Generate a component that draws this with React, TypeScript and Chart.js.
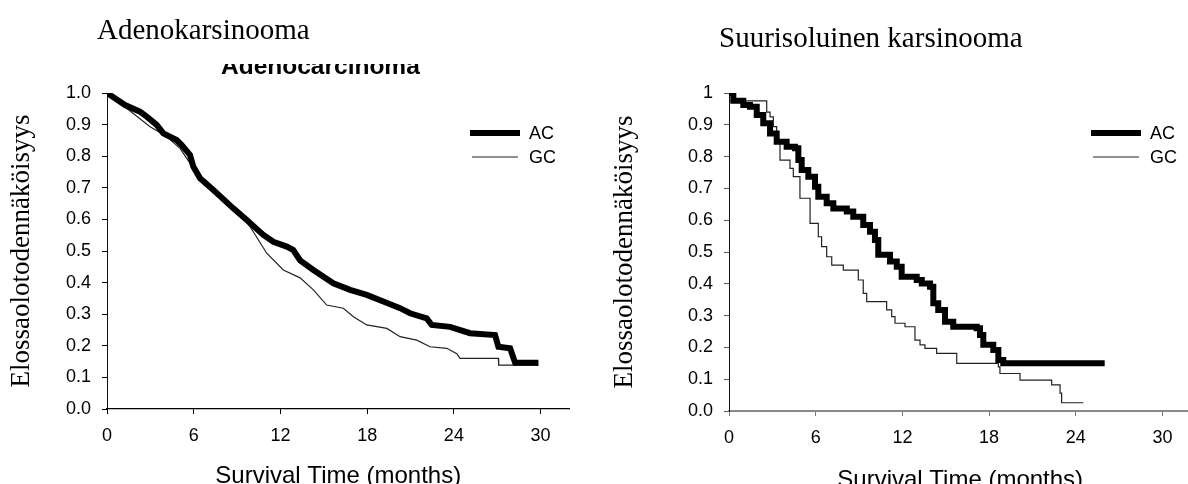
import React, { useEffect, useRef } from 'react';
import { Chart, registerables } from 'chart.js';

Chart.register(...registerables);

// ---------- data ----------
const seriesLabels = ['AC', 'GC'];
const xTickValues = [0, 6, 12, 18, 24, 30];
const yTickValues = [0, 0.1, 0.2, 0.3, 0.4, 0.5, 0.6, 0.7, 0.8, 0.9, 1.0];

// Left panel: adenocarcinoma
const adenoAcTime = [0, 1.25, 2.28, 2.75, 3.44, 3.9, 4.82, 5.17, 5.74, 5.97, 6.44, 7.36, 8.74, 9.67, 10.82, 11.51, 12.44, 12.89, 13.36, 14.28, 15.66, 16.82, 17.97, 19.12, 20.28, 20.97, 22.12, 22.47, 23.74, 25.12, 26.85, 27.08, 27.89, 28.24, 29.85];
const adenoAcSurv = [1.0, 0.962, 0.941, 0.925, 0.899, 0.872, 0.851, 0.835, 0.804, 0.767, 0.73, 0.693, 0.635, 0.598, 0.551, 0.529, 0.514, 0.503, 0.47, 0.44, 0.398, 0.377, 0.361, 0.34, 0.319, 0.303, 0.287, 0.266, 0.26, 0.24, 0.234, 0.197, 0.192, 0.146, 0.146];
const adenoGcTime = [0, 1.82, 2.98, 4.13, 5.05, 5.52, 5.97, 6.44, 7.36, 8.74, 9.67, 10.12, 11.05, 12.2, 13.36, 14.28, 15.2, 16.35, 17.05, 17.97, 19.36, 20.28, 21.43, 22.35, 23.51, 24.2, 24.43, 27.08, 27.1, 29.85];
const adenoGcSurv = [1.0, 0.935, 0.893, 0.862, 0.825, 0.793, 0.762, 0.726, 0.688, 0.63, 0.592, 0.561, 0.493, 0.44, 0.415, 0.377, 0.329, 0.319, 0.292, 0.266, 0.255, 0.229, 0.218, 0.197, 0.192, 0.175, 0.16, 0.16, 0.139, 0.139];

// Right panel: large cell carcinoma
const largeAcTime = [0, 0.3, 0.99, 1.45, 1.92, 2.37, 2.84, 3.3, 3.99, 4.57, 4.8, 5.03, 5.49, 5.95, 6.18, 6.76, 7.22, 8.15, 8.6, 9.29, 9.76, 10.1, 10.33, 11.14, 11.61, 11.95, 12.99, 13.34, 13.91, 14.14, 14.48, 14.95, 15.52, 17.14, 17.37, 17.6, 18.29, 18.64, 18.98, 26.0];
const largeAcSurv = [1.0, 0.976, 0.962, 0.957, 0.931, 0.905, 0.873, 0.847, 0.831, 0.826, 0.789, 0.758, 0.737, 0.705, 0.674, 0.653, 0.637, 0.627, 0.611, 0.585, 0.564, 0.538, 0.491, 0.47, 0.454, 0.422, 0.412, 0.401, 0.391, 0.339, 0.318, 0.281, 0.265, 0.26, 0.239, 0.208, 0.192, 0.16, 0.15, 0.15];
const largeGcTime = [0, 2.61, 2.84, 3.07, 3.3, 3.53, 4.22, 4.45, 4.91, 5.61, 6.18, 6.41, 6.76, 7.11, 7.91, 8.95, 9.29, 9.53, 10.91, 11.26, 11.49, 12.18, 12.87, 13.22, 13.56, 14.37, 15.76, 18.64, 18.75, 20.14, 22.33, 22.91, 23.02, 24.52];
const largeGcSurv = [0.975, 0.94, 0.925, 0.894, 0.847, 0.789, 0.763, 0.737, 0.669, 0.59, 0.548, 0.517, 0.485, 0.459, 0.443, 0.412, 0.37, 0.344, 0.318, 0.297, 0.276, 0.265, 0.223, 0.208, 0.197, 0.181, 0.15, 0.139, 0.118, 0.097, 0.082, 0.056, 0.026, 0.026];

const xTitle = 'Survival Time (months)';
const yTitle = 'Elossaolotodennäköisyys';

// ---------- styling ----------
const SANS = "'Liberation Sans', Arial, sans-serif";
const SERIF = "'Liberation Serif', 'Times New Roman', serif";

const legendPlugin = {
  id: 'kmLegend',
  afterDatasetsDraw(chart: any, _args: any, opts: any) {
    const ctx = chart.ctx;
    ctx.save();
    chart.data.datasets.forEach((ds: any, i: number) => {
      const row = opts.rows[i];
      ctx.beginPath();
      ctx.strokeStyle = ds.borderColor;
      ctx.lineWidth = ds.borderWidth;
      ctx.lineCap = 'butt';
      ctx.moveTo(row.x0, row.y);
      ctx.lineTo(row.x1, row.y);
      ctx.stroke();
      ctx.fillStyle = '#000';
      ctx.font = opts.font;
      ctx.textBaseline = 'middle';
      ctx.textAlign = 'left';
      ctx.fillText(ds.label, opts.textX, row.y + 1);
    });
    ctx.restore();
  },
};

const toPoints = (t: number[], s: number[]) => t.map((v, i) => ({ x: v, y: s[i] }));

function buildConfig(p: any) {
  return {
    type: 'line',
    data: {
      datasets: [
        {
          label: seriesLabels[0],
          data: toPoints(p.acT, p.acS),
          borderColor: '#000',
          borderWidth: 6,
          pointRadius: 0,
          stepped: p.stepped,
          tension: 0,
          fill: false,
        },
        {
          label: seriesLabels[1],
          data: toPoints(p.gcT, p.gcS),
          borderColor: '#222',
          borderWidth: 1.2,
          pointRadius: 0,
          stepped: p.stepped,
          tension: 0,
          fill: false,
        },
      ],
    },
    options: {
      responsive: false,
      animation: false,
      devicePixelRatio: 1,
      layout: { padding: { left: 0, right: p.padRight, top: p.padTop, bottom: 0 } },
      plugins: {
        legend: { display: false },
        title: { display: false },
        tooltip: { enabled: false },
        kmLegend: p.legend,
      },
      scales: {
        x: {
          type: 'linear',
          min: 0,
          max: 32,
          afterBuildTicks: (s: any) => {
            s.ticks = xTickValues.map((v) => ({ value: v }));
          },
          afterFit: (s: any) => {
            s.height = p.xAxisHeight;
          },
          ticks: {
            autoSkip: false,
            maxRotation: 0,
            color: '#000',
            padding: 11,
            font: { family: SANS, size: 18 },
            callback: (v: any) => String(v),
          },
          grid: { display: true, drawOnChartArea: false, drawTicks: true, tickLength: 5, color: p.xTickColor },
          border: { display: true, color: p.xBorderColor, width: p.xBorderWidth },
          title: {
            display: true,
            text: xTitle,
            color: '#000',
            font: { family: SANS, size: 24, lineHeight: 1 },
            padding: { top: 0, bottom: p.xTitlePad },
          },
        },
        y: {
          type: 'linear',
          min: 0,
          max: 1,
          afterBuildTicks: (s: any) => {
            s.ticks = yTickValues.map((v) => ({ value: v }));
          },
          afterFit: (s: any) => {
            s.width = p.yAxisWidth;
          },
          ticks: {
            autoSkip: false,
            color: '#000',
            padding: 11,
            font: { family: SANS, size: 18 },
            callback: (v: any) => (p.topOne && v === 1 ? '1' : Number(v).toFixed(1)),
          },
          grid: { display: true, drawOnChartArea: false, drawTicks: true, tickLength: 5, color: p.yTickColor },
          border: { display: true, color: '#111', width: 1 },
          title: {
            display: true,
            text: yTitle,
            color: '#000',
            font: { family: SERIF, size: 27, lineHeight: 1 },
            padding: { top: p.yTitlePad, bottom: 0 },
          },
        },
      },
    },
    plugins: [legendPlugin],
  };
}

function Panel({ cfg }: { cfg: any }) {
  const ref = useRef<HTMLCanvasElement | null>(null);
  useEffect(() => {
    if (!ref.current) return;
    const chart = new Chart(ref.current, buildConfig(cfg) as any);
    return () => chart.destroy();
  }, []);
  return <canvas ref={ref} width={600} height={500} style={{ width: 600, height: 500, display: 'block' }} />;
}

const leftPanel = {
  acT: adenoAcTime, acS: adenoAcSurv, gcT: adenoGcTime, gcS: adenoGcSurv,
  stepped: false,
  padTop: 93, padRight: 600 - 569.5, yAxisWidth: 107, xAxisHeight: 500 - 409,
  xTitlePad: 12, yTitlePad: 8, topOne: false,
  xTickColor: '#000', yTickColor: '#000', xBorderColor: '#000', xBorderWidth: 1.2,
  legend: { font: `18px ${SANS}`, textX: 529, rows: [{ x0: 470, x1: 520, y: 133 }, { x0: 472, x1: 518, y: 157 }] },
};

const rightPanel = {
  acT: largeAcTime, acS: largeAcSurv, gcT: largeGcTime, gcS: largeGcSurv,
  stepped: 'before',
  padTop: 93, padRight: 600 - 591.4, yAxisWidth: 129, xAxisHeight: 500 - 411,
  xTitlePad: 8, yTitlePad: 11.5, topOne: true,
  xTickColor: '#777', yTickColor: '#555', xBorderColor: '#888', xBorderWidth: 2,
  legend: { font: `18px ${SANS}`, textX: 550, rows: [{ x0: 491, x1: 541, y: 133 }, { x0: 493, x1: 539, y: 157 }] },
};

export default function App() {
  return (
    <div style={{ position: 'absolute', left: 0, top: 0, width: 1188, height: 484, overflow: 'hidden', background: '#fff' }}>
      <div style={{ position: 'absolute', left: 0, top: 0 }}>
        <Panel cfg={leftPanel} />
      </div>
      <div style={{ position: 'absolute', left: 600, top: 0 }}>
        <Panel cfg={rightPanel} />
      </div>
      <div style={{ position: 'absolute', left: 97, top: 15, fontFamily: SERIF, fontSize: 29, lineHeight: '29px', whiteSpace: 'nowrap', color: '#000' }}>
        Adenokarsinooma
      </div>
      <div style={{ position: 'absolute', left: 719, top: 23, fontFamily: SERIF, fontSize: 29, lineHeight: '29px', whiteSpace: 'nowrap', color: '#000' }}>
        Suurisoluinen karsinooma
      </div>
      <div style={{ position: 'absolute', left: 221, top: 64, width: 220, height: 14, overflow: 'hidden' }}>
        <div style={{ position: 'absolute', left: 0, top: -9.7, fontFamily: SANS, fontWeight: 'bold', fontSize: 24.5, lineHeight: '24.5px', whiteSpace: 'nowrap', color: '#000' }}>
          Adenocarcinoma
        </div>
      </div>
    </div>
  );
}
